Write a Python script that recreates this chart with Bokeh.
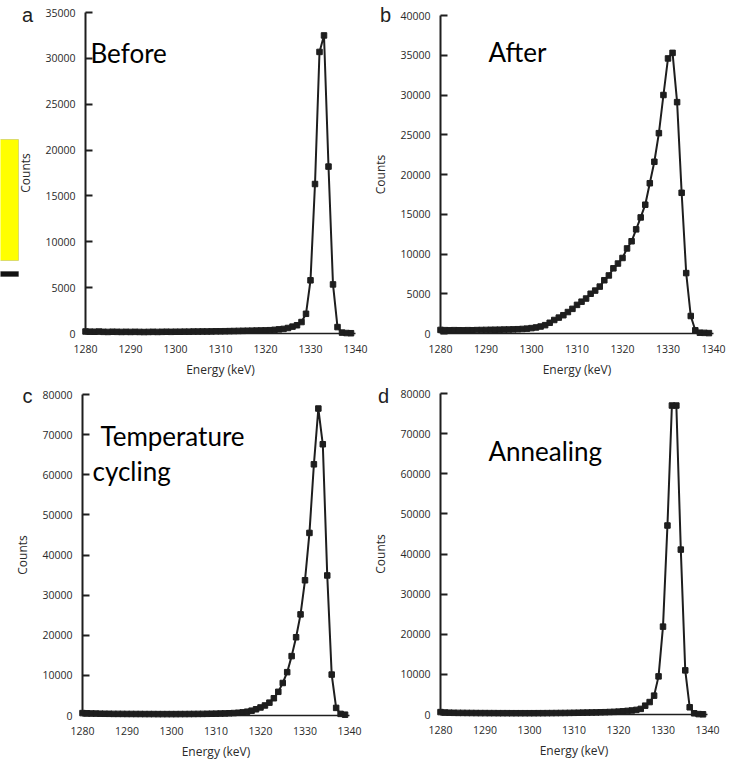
from bokeh.plotting import figure
from bokeh.layouts import column, row
from bokeh.models import Range1d, FixedTicker, Label, BoxAnnotation
from bokeh.embed import file_html
from bokeh.resources import INLINE

energy = [1280, 1281, 1282, 1283, 1284, 1285, 1286, 1287, 1288, 1289,
          1290, 1291, 1292, 1293, 1294, 1295, 1296, 1297, 1298, 1299,
          1300, 1301, 1302, 1303, 1304, 1305, 1306, 1307, 1308, 1309,
          1310, 1311, 1312, 1313, 1314, 1315, 1316, 1317, 1318, 1319,
          1320, 1321, 1322, 1323, 1324, 1325, 1326, 1327, 1328, 1329,
          1330, 1331, 1332, 1333, 1334, 1335, 1336, 1337, 1338, 1339]

counts_before = [220, 200, 190, 210, 180, 170, 190, 180, 170, 180,
                 170, 180, 170, 160, 170, 180, 170, 180, 190, 180,
                 190, 190, 200, 200, 210, 210, 220, 220, 230, 240,
                 240, 250, 260, 270, 280, 290, 300, 310, 320, 330,
                 340, 360, 400, 450, 500, 600, 750, 900, 1250, 2150,
                 5800, 16300, 30700, 32500, 18200, 5350, 700, 100, 50, 30]

counts_after = [450, 420, 400, 420, 410, 400, 420, 410, 430, 440,
                450, 460, 470, 480, 490, 500, 520, 540, 570, 610,
                680, 760, 880, 1050, 1350, 1700, 2000, 2300, 2700, 3100,
                3600, 4000, 4400, 5000, 5400, 5900, 6700, 7300, 8200, 8800,
                9500, 10700, 11600, 13100, 14600, 16200, 18900, 21600, 25200, 30000,
                34600, 35300, 29100, 17700, 7600, 2200, 400, 100, 80, 50]

counts_cycling = [600, 550, 500, 480, 450, 430, 420, 400, 400, 390,
                  380, 380, 370, 370, 360, 360, 360, 350, 350, 350,
                  350, 350, 360, 360, 370, 380, 390, 400, 420, 440,
                  460, 490, 520, 560, 610, 680, 780, 950, 1200, 1550,
                  2000, 2500, 3200, 4300, 5900, 8100, 10800, 14800, 19500, 25200,
                  33700, 45500, 62600, 76500, 67600, 34900, 10200, 1900, 400, 200]

counts_annealing = [600, 500, 450, 420, 400, 390, 380, 370, 360, 350,
                    350, 340, 340, 330, 330, 330, 320, 320, 320, 320,
                    320, 320, 330, 330, 340, 350, 360, 370, 380, 400,
                    420, 440, 460, 480, 500, 520, 550, 580, 620, 660,
                    720, 800, 900, 1000, 1150, 1400, 2200, 3100, 4700, 9500,
                    21900, 47100, 77000, 77000, 41100, 11000, 1800, 300, 100, 50]

x_ticks = [1280, 1290, 1300, 1310, 1320, 1330, 1340]
y_ticks_a = [0, 5000, 10000, 15000, 20000, 25000, 30000, 35000]
y_ticks_b = [0, 5000, 10000, 15000, 20000, 25000, 30000, 35000, 40000]
y_ticks_cd = [0, 10000, 20000, 30000, 40000, 50000, 60000, 70000, 80000]

INK = "#1e1e1e"
X0, X1 = 1280, 1340


def panel(counts, ymax, yticks, geom, letter, letter_px, notes, boxes=()):
    # geom: figure origin (ox, oy) and size (w, h) on the page, page pixel of
    # x=1280 / x=1340 and of y=0 / y=ymax.  The frame fills the whole figure;
    # both axes sit at fixed data locations inside it.
    ox, oy, w, h, px0, px1, py0, py1 = geom
    kx = (X1 - X0) / (px1 - px0)
    ky = ymax / (py0 - py1)

    def xd(px):
        return X0 + (px - px0) * kx

    def yd(py):
        return (py0 - py) * ky

    p = figure(width=w, height=h, output_backend="svg", toolbar_location=None,
               x_range=Range1d(xd(ox), xd(ox + w)),
               y_range=Range1d(yd(oy + h), yd(oy)),
               min_border_left=0, min_border_right=0,
               min_border_top=0, min_border_bottom=0)
    p.outline_line_color = None
    p.grid.grid_line_color = None
    p.background_fill_color = "white"
    p.border_fill_color = "white"

    # decorative strip cropped from a neighbouring figure in the source image
    for (l, t, r, b, fc, lc) in boxes:
        p.add_layout(BoxAnnotation(left=xd(l), right=xd(r), top=yd(t),
                                   bottom=yd(b), fill_color=fc, fill_alpha=1,
                                   line_color=lc, line_width=1))

    p.xaxis.ticker = FixedTicker(ticks=x_ticks)
    p.yaxis.ticker = FixedTicker(ticks=yticks)
    for ax in (p.xaxis[0], p.yaxis[0]):
        ax.axis_line_color = INK
        ax.minor_tick_line_color = None
        ax.major_label_text_font = "Open Sans"
        ax.major_label_text_font_size = "10.5px"
        ax.major_label_text_color = "#2a2a2a"
        ax.axis_label_text_font = "Open Sans"
        ax.axis_label_text_font_size = "12px"
        ax.axis_label_text_font_style = "normal"
        ax.axis_label_text_color = "#2a2a2a"
    p.xaxis.bounds = (X0, X1)
    p.xaxis.fixed_location = 0
    p.xaxis.axis_line_width = 1.5
    p.xaxis.major_tick_line_color = None
    p.xaxis.major_label_standoff = 5
    p.xaxis.axis_label = "Energy (keV)"
    p.xaxis.axis_label_standoff = 5
    p.yaxis.bounds = (0, ymax)
    p.yaxis.fixed_location = X0
    p.yaxis.axis_line_width = 2
    p.yaxis.major_tick_in = 7
    p.yaxis.major_tick_out = 0
    p.yaxis.major_tick_line_width = 2
    p.yaxis.major_tick_line_color = INK
    p.yaxis.major_label_standoff = 10
    p.yaxis.axis_label = "Counts"
    p.yaxis.axis_label_standoff = 8

    p.line(energy, counts, line_width=2, color=INK)
    p.scatter(energy, counts, marker="square", size=5.5, color=INK)

    p.add_layout(Label(x=xd(letter_px[0]), y=yd(letter_px[1]), text=letter,
                       text_font="Liberation Sans", text_font_size="20px",
                       text_color="#222", text_align="center",
                       text_baseline="middle"))
    for (tx, ty, txt) in notes:
        p.add_layout(Label(x=xd(tx), y=yd(ty), text=txt, text_font="Lato",
                           text_font_size="26px", text_color="black",
                           text_baseline="alphabetic"))
    return p


# geometry in page pixels
geom_a = (0, 0, 370, 378, 85, 355, 333, 12)
geom_b = (370, 0, 361, 378, 440, 713, 333, 15)
geom_c = (0, 378, 370, 383, 82, 349, 715, 394)
geom_d = (370, 378, 361, 383, 440, 707, 714, 393)

strip_a = [(-2, 139, 18, 260, "#ffff00", "#8c8c3a"),
           (-2, 271, 18, 276, "#111111", "#111111")]

pa = panel(counts_before, 35000, y_ticks_a, geom_a, "a", (27, 14),
           [(90, 52, "Before")], strip_a)
pb = panel(counts_after, 40000, y_ticks_b, geom_b, "b", (385, 14),
           [(488, 51, "After")])
pc = panel(counts_cycling, 80000, y_ticks_cd, geom_c, "c", (27, 395),
           [(100, 435, "Temperature"), (92, 470, "cycling")])
pd = panel(counts_annealing, 80000, y_ticks_cd, geom_d, "d", (383, 395),
           [(488, 450, "Annealing")])

layout = column(row(pa, pb), row(pc, pd))
open("out.html", "w").write(file_html(layout, INLINE))
